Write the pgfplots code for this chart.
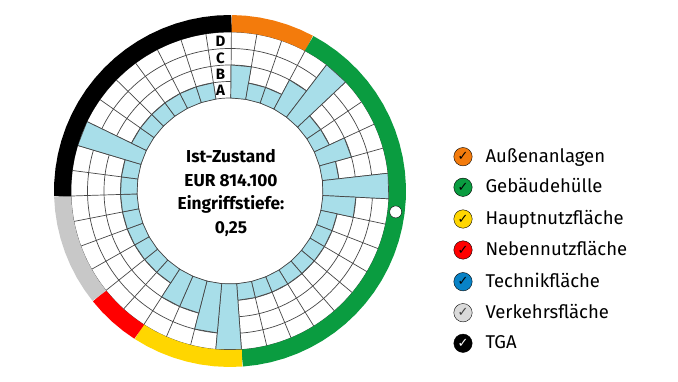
\documentclass[border=0pt]{standalone}
\usepackage{fontspec}
\setmainfont{Fira Sans}
\newfontfamily\dejavu{DejaVu Sans}
\usepackage{pgfplots}
\pgfplotsset{compat=1.18}
\definecolor{cellblue}{RGB}{168,222,233}
\definecolor{gridcol}{RGB}{70,70,70}
\definecolor{ringorange}{RGB}{243,123,12}
\definecolor{ringgreen}{RGB}{10,156,64}
\definecolor{ringyellow}{RGB}{255,214,0}
\definecolor{ringred}{RGB}{255,0,0}
\definecolor{ringgray}{RGB}{200,200,200}
\definecolor{techblue}{RGB}{8,130,198}
\definecolor{leggray}{RGB}{218,218,218}
\begin{document}
\begin{tikzpicture}[
  gridline/.style={draw=gridcol, line width=0.7bp},
  legtext/.style={anchor=west, text height=12.7bp, text depth=0pt, font=\fontsize{18.5bp}{20bp}\selectfont}]
\useasboundingbox (0,0) rectangle (678bp,382bp);
\begin{axis}[at={(0,0)}, anchor=south west, scale only axis, width=678bp, height=382bp,
  xmin=-230, xmax=448, ymin=-191, ymax=191, hide axis, clip=false,
  bar/.style={fill=cellblue, draw=gridcol, line width=0.7bp, data cs=polar},
  seg/.style={line width=17bp, data cs=polar, line join=round},
  legdot/.style={only marks, mark=*, mark size=9.2bp, mark options={draw=none, fill=#1},
    nodes near coords={\dejavu ✓}, nodes near coords align=center,
    every node near coord/.append style={font=\fontsize{13bp}{13bp}\selectfont, text=black, inner sep=0pt}}]

% grid rings and spokes
\pgfplotsinvokeforeach{93,109.5,126,142.5,159}{\draw[gridline] (axis cs:0,0) circle[radius=#1bp];}
\pgfplotsinvokeforeach{89.5,80.27,71.04,61.81,52.58,43.35,34.12,24.88,15.65,6.42,-2.81,-12.04,-21.27,-30.50,-39.73,-48.96,-58.19,-67.42,-76.65,-85.88,-95.12,-104.35,-113.58,-122.81,-132.04,-141.27,-150.50,-159.73,-168.96,-178.19,-187.42,-196.65,-205.88,-215.12,-224.35,-233.58,-242.81,-252.04,-261.27}{\draw[gridline] (axis cs:0,0) ++(#1:93bp) -- ++(#1:66bp);}

% blue bars: level 1=A (109.5), 2=B (126), 3=C (142.5), 4=D (159)
\addplot[bar] coordinates {(89.5,93) (89.5,126) (80.27,126) (80.27,93)} -- cycle;
\addplot[bar] coordinates {(80.27,93) (80.27,109.5) (71.04,109.5) (71.04,93)} -- cycle;
\addplot[bar] coordinates {(71.04,93) (71.04,109.5) (61.81,109.5) (61.81,93)} -- cycle;
\addplot[bar] coordinates {(61.81,93) (61.81,126) (52.58,126) (52.58,93)} -- cycle;
\addplot[bar] coordinates {(52.58,93) (52.58,159) (43.35,159) (43.35,93)} -- cycle;
\addplot[bar] coordinates {(43.35,93) (43.35,109.5) (34.12,109.5) (34.12,93)} -- cycle;
\addplot[bar] coordinates {(34.12,93) (34.12,109.5) (24.88,109.5) (24.88,93)} -- cycle;
\addplot[bar] coordinates {(24.88,93) (24.88,126) (15.65,126) (15.65,93)} -- cycle;
\addplot[bar] coordinates {(15.65,93) (15.65,109.5) (6.42,109.5) (6.42,93)} -- cycle;
\addplot[bar] coordinates {(6.42,93) (6.42,159) (-2.81,159) (-2.81,93)} -- cycle;
\addplot[bar] coordinates {(-2.81,93) (-2.81,126) (-12.04,126) (-12.04,93)} -- cycle;
\addplot[bar] coordinates {(-12.04,93) (-12.04,109.5) (-21.27,109.5) (-21.27,93)} -- cycle;
\addplot[bar] coordinates {(-21.27,93) (-21.27,109.5) (-30.50,109.5) (-30.50,93)} -- cycle;
\addplot[bar] coordinates {(-30.50,93) (-30.50,109.5) (-39.73,109.5) (-39.73,93)} -- cycle;
\addplot[bar] coordinates {(-39.73,93) (-39.73,109.5) (-48.96,109.5) (-48.96,93)} -- cycle;
\addplot[bar] coordinates {(-48.96,93) (-48.96,109.5) (-58.19,109.5) (-58.19,93)} -- cycle;
\addplot[bar] coordinates {(-58.19,93) (-58.19,109.5) (-67.42,109.5) (-67.42,93)} -- cycle;
\addplot[bar] coordinates {(-67.42,93) (-67.42,109.5) (-76.65,109.5) (-76.65,93)} -- cycle;
\addplot[bar] coordinates {(-76.65,93) (-76.65,109.5) (-85.88,109.5) (-85.88,93)} -- cycle;
\addplot[bar] coordinates {(-85.88,93) (-85.88,159) (-95.12,159) (-95.12,93)} -- cycle;
\addplot[bar] coordinates {(-95.12,93) (-95.12,142.5) (-104.35,142.5) (-104.35,93)} -- cycle;
\addplot[bar] coordinates {(-104.35,93) (-104.35,126) (-113.58,126) (-113.58,93)} -- cycle;
\addplot[bar] coordinates {(-113.58,93) (-113.58,126) (-122.81,126) (-122.81,93)} -- cycle;
\addplot[bar] coordinates {(-122.81,93) (-122.81,109.5) (-132.04,109.5) (-132.04,93)} -- cycle;
\addplot[bar] coordinates {(-132.04,93) (-132.04,109.5) (-141.27,109.5) (-141.27,93)} -- cycle;
\addplot[bar] coordinates {(-141.27,93) (-141.27,109.5) (-150.50,109.5) (-150.50,93)} -- cycle;
\addplot[bar] coordinates {(-150.50,93) (-150.50,109.5) (-159.73,109.5) (-159.73,93)} -- cycle;
\addplot[bar] coordinates {(-159.73,93) (-159.73,109.5) (-168.96,109.5) (-168.96,93)} -- cycle;
\addplot[bar] coordinates {(-168.96,93) (-168.96,109.5) (-178.19,109.5) (-178.19,93)} -- cycle;
\addplot[bar] coordinates {(-178.19,93) (-178.19,109.5) (-187.42,109.5) (-187.42,93)} -- cycle;
\addplot[bar] coordinates {(-187.42,93) (-187.42,109.5) (-196.65,109.5) (-196.65,93)} -- cycle;
\addplot[bar] coordinates {(-196.65,93) (-196.65,159) (-205.88,159) (-205.88,93)} -- cycle;
\addplot[bar] coordinates {(-205.88,93) (-205.88,109.5) (-215.12,109.5) (-215.12,93)} -- cycle;
\addplot[bar] coordinates {(-215.12,93) (-215.12,109.5) (-224.35,109.5) (-224.35,93)} -- cycle;
\addplot[bar] coordinates {(-224.35,93) (-224.35,109.5) (-233.58,109.5) (-233.58,93)} -- cycle;
\addplot[bar] coordinates {(-233.58,93) (-233.58,109.5) (-242.81,109.5) (-242.81,93)} -- cycle;
\addplot[bar] coordinates {(-242.81,93) (-242.81,109.5) (-252.04,109.5) (-252.04,93)} -- cycle;
\addplot[bar] coordinates {(-252.04,93) (-252.04,109.5) (-261.27,109.5) (-261.27,93)} -- cycle;

% outer category ring
\addplot[seg, ringorange] coordinates {(89.5,167.5) (84.88,167.5) (80.27,167.5) (75.65,167.5) (71.04,167.5) (66.42,167.5) (61.81,167.5)};
\addplot[seg, ringgreen] coordinates {(61.81,167.5) (57.19,167.5) (52.58,167.5) (47.96,167.5) (43.35,167.5) (38.73,167.5) (34.12,167.5) (29.50,167.5) (24.88,167.5) (20.27,167.5) (15.65,167.5) (11.04,167.5) (6.42,167.5) (1.81,167.5) (-2.81,167.5) (-7.42,167.5) (-12.04,167.5) (-16.65,167.5) (-21.27,167.5) (-25.88,167.5) (-30.50,167.5) (-35.12,167.5) (-39.73,167.5) (-44.35,167.5) (-48.96,167.5) (-53.58,167.5) (-58.19,167.5) (-62.81,167.5) (-67.42,167.5) (-72.04,167.5) (-76.65,167.5) (-81.27,167.5) (-85.88,167.5)};
\addplot[seg, ringyellow] coordinates {(-85.88,167.5) (-90.50,167.5) (-95.12,167.5) (-99.73,167.5) (-104.35,167.5) (-108.96,167.5) (-113.58,167.5) (-118.19,167.5) (-122.81,167.5)};
\addplot[seg, ringred] coordinates {(-122.81,167.5) (-127.42,167.5) (-132.04,167.5) (-136.65,167.5) (-141.27,167.5)};
\addplot[seg, ringgray] coordinates {(-141.27,167.5) (-145.88,167.5) (-150.50,167.5) (-155.12,167.5) (-159.73,167.5) (-164.35,167.5) (-168.96,167.5) (-173.58,167.5) (-178.19,167.5)};
\addplot[seg, black] coordinates {(-178.19,167.5) (-182.81,167.5) (-187.42,167.5) (-192.04,167.5) (-196.65,167.5) (-201.27,167.5) (-205.88,167.5) (-210.50,167.5) (-215.12,167.5) (-219.73,167.5) (-224.35,167.5) (-228.96,167.5) (-233.58,167.5) (-238.19,167.5) (-242.81,167.5) (-247.42,167.5) (-252.04,167.5) (-256.65,167.5) (-261.27,167.5) (-265.88,167.5) (-270.5,167.5)};

% white marker on the ring
\addplot[only marks, mark=*, mark size=6bp, mark options={fill=white, draw=none}, data cs=polar] coordinates {(-7.2,167)};

% ring labels
\node[font=\bfseries\fontsize{15bp}{15bp}\selectfont] at (axis cs:-9.5,149.5) {D};
\node[font=\bfseries\fontsize{15bp}{15bp}\selectfont] at (axis cs:-9.5,133) {C};
\node[font=\bfseries\fontsize{15bp}{15bp}\selectfont] at (axis cs:-9.5,116.5) {B};
\node[font=\bfseries\fontsize{15bp}{15bp}\selectfont] at (axis cs:-9.5,101) {A};

% centre text
\node[font=\bfseries\fontsize{17.3bp}{23.5bp}\selectfont, align=center] at (axis cs:1,-2) {Ist-Zustand\\EUR 814.100\\Eingriffstiefe:\\0,25};

% legend
\addplot[legdot=ringorange] coordinates {(233,34.3)};
\addplot[legdot=ringgreen] coordinates {(233,3.7)};
\addplot[legdot=ringyellow] coordinates {(233,-28)};
\addplot[legdot=ringred] coordinates {(233,-59)};
\addplot[legdot=techblue] coordinates {(233,-90.7)};
\addplot[legdot=leggray, every node near coord/.append style={text=black!75}] coordinates {(233,-121.7)};
\addplot[legdot=black, every node near coord/.append style={text=white}] coordinates {(233,-152.3)};
\node[legtext] at (axis cs:252,35.3) {Außenanlagen};
\node[legtext] at (axis cs:252,4.7) {Gebäudehülle};
\node[legtext] at (axis cs:252,-27) {Hauptnutzfläche};
\node[legtext] at (axis cs:252,-58) {Nebennutzfläche};
\node[legtext] at (axis cs:252,-89.7) {Technikfläche};
\node[legtext] at (axis cs:252,-120.7) {Verkehrsfläche};
\node[legtext] at (axis cs:252,-151.3) {TGA};
\end{axis}
\end{tikzpicture}
\end{document}
